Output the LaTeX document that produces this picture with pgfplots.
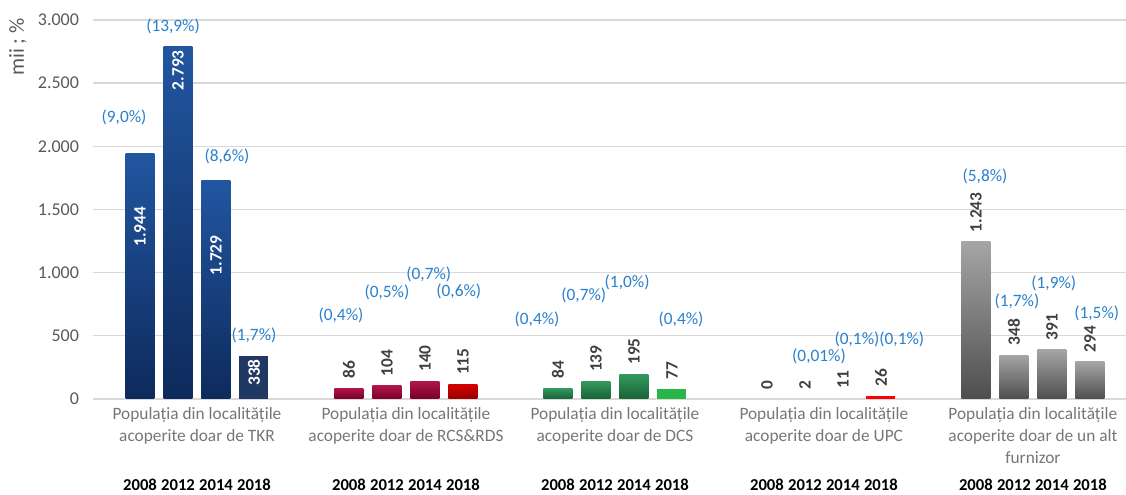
\documentclass[border=0pt]{standalone}
\usepackage{pgfplots}
\pgfplotsset{compat=1.18}
\usepackage{fontspec}
\setmainfont{Carlito}

\definecolor{gridc}{RGB}{217,217,217}
\definecolor{tickc}{RGB}{89,89,89}
\definecolor{catc}{RGB}{118,118,118}
\definecolor{valc}{RGB}{64,64,64}
\definecolor{pctc}{RGB}{41,128,205}
\definecolor{tkrTop}{RGB}{33,86,160}
\definecolor{tkrBot}{RGB}{14,42,92}
\definecolor{tkrNavy}{RGB}{32,56,100}
\definecolor{rcsTop}{RGB}{176,22,72}
\definecolor{rcsBot}{RGB}{118,0,40}
\definecolor{rcsRedTop}{RGB}{210,0,0}
\definecolor{rcsRedBot}{RGB}{150,0,0}
\definecolor{dcsTop}{RGB}{52,152,94}
\definecolor{dcsBot}{RGB}{24,98,54}
\definecolor{dcsLight}{RGB}{40,182,72}
\definecolor{upcRed}{RGB}{255,0,0}
\definecolor{othTop}{RGB}{165,165,165}
\definecolor{othBot}{RGB}{78,78,78}

\pgfplotsset{
  onebar/.style={ybar, bar width=0.763, bar shift=0pt, draw=none},
  valtop/.style={nodes near coords, every node near coord/.append style={
      rotate=90, anchor=west, inner xsep=7pt, inner ysep=0pt, text=valc,
      font=\fontsize{13}{15}\selectfont\bfseries}},
  valin/.style={nodes near coords, every node near coord/.append style={
      rotate=90, anchor=east, inner xsep=#1, inner ysep=0pt, text=white,
      font=\fontsize{13}{15}\selectfont\bfseries}},
}
\tikzset{catlabel/.style={anchor=north, align=center, inner sep=0pt, yshift=-6pt, text=catc,
      font=\fontsize{13}{16.5}\selectfont}}

\newcommand{\pct}[3]{\node[text=pctc, font=\fontsize{13}{15}\selectfont] at (axis cs:#1,#2) {#3};}

\begin{document}
\begin{tikzpicture}
\path[use as bounding box] (-69.75pt,-72pt) rectangle (774.75pt,299.25pt);
\begin{axis}[
  scale only axis,
  width=774.75pt, height=284.25pt,
  xmin=-1.237, xmax=25.95,
  ymin=0, ymax=3000,
  enlargelimits=false,
  clip=false,
  axis line style={draw=none},
  tick style={draw=none},
  ymajorgrids,
  major grid style={gridc, line width=1pt},
  ytick={0,500,1000,1500,2000,2500,3000},
  /pgf/number format/use comma,
  /pgf/number format/1000 sep={.},
  /pgf/number format/assume math mode=true,
  yticklabel style={text=tickc, font=\fontsize{13.5}{15}\selectfont},
  yticklabel shift=7pt,
  xtick={0,1,2,3,5.5,6.5,7.5,8.5,11,12,13,14,16.5,17.5,18.5,19.5,22,23,24,25},
  xticklabels={2008,2012,2014,2018,2008,2012,2014,2018,2008,2012,2014,2018,2008,2012,2014,2018,2008,2012,2014,2018},
  xticklabel style={anchor=center, yshift=-64.5pt, text=black, font=\fontsize{12.5}{14}\selectfont\bfseries},
]
% TKR
\addplot[onebar, top color=tkrTop, bottom color=tkrBot, valin=40pt] coordinates {(0,1944)};
\addplot[onebar, top color=tkrTop, bottom color=tkrBot, valin=3pt] coordinates {(1,2793)};
\addplot[onebar, top color=tkrTop, bottom color=tkrBot, valin=41pt] coordinates {(2,1729)};
\addplot[onebar, fill=tkrNavy, valin=2pt] coordinates {(3,338)};
% RCS&RDS
\addplot[onebar, top color=rcsTop, bottom color=rcsBot, valtop] coordinates {(5.5,86)};
\addplot[onebar, top color=rcsTop, bottom color=rcsBot, valtop] coordinates {(6.5,104)};
\addplot[onebar, top color=rcsTop, bottom color=rcsBot, valtop] coordinates {(7.5,140)};
\addplot[onebar, top color=rcsRedTop, bottom color=rcsRedBot, valtop] coordinates {(8.5,115)};
% DCS
\addplot[onebar, top color=dcsTop, bottom color=dcsBot, valtop] coordinates {(11,84)};
\addplot[onebar, top color=dcsTop, bottom color=dcsBot, valtop] coordinates {(12,139)};
\addplot[onebar, top color=dcsTop, bottom color=dcsBot, valtop] coordinates {(13,195)};
\addplot[onebar, fill=dcsLight, valtop] coordinates {(14,77)};
% UPC (only the 2018 bar is visible in the original)
\addplot[onebar, fill=none, valtop] coordinates {(16.5,0)};
\addplot[onebar, fill=none, valtop] coordinates {(17.5,2)};
\addplot[onebar, fill=none, valtop] coordinates {(18.5,11)};
\addplot[onebar, fill=upcRed, valtop] coordinates {(19.5,26)};
% alt furnizor
\addplot[onebar, top color=othTop, bottom color=othBot, valtop] coordinates {(22,1243)};
\addplot[onebar, top color=othTop, bottom color=othBot, valtop] coordinates {(23,348)};
\addplot[onebar, top color=othTop, bottom color=othBot, valtop] coordinates {(24,391)};
\addplot[onebar, top color=othTop, bottom color=othBot, valtop] coordinates {(25,294)};

% percentages
\pct{-0.42}{2232}{(9,0\%)}
\pct{0.87}{2953}{(13,9\%)}
\pct{2.29}{1924}{(8,6\%)}
\pct{3.0}{507}{(1,7\%)}
\pct{5.29}{665}{(0,4\%)}
\pct{6.5}{847}{(0,5\%)}
\pct{7.6}{990}{(0,7\%)}
\pct{8.39}{855}{(0,6\%)}
\pct{10.45}{633}{(0,4\%)}
\pct{11.68}{823}{(0,7\%)}
\pct{12.82}{926}{(1,0\%)}
\pct{14.24}{633}{(0,4\%)}
\pct{17.87}{340}{(0,01\%)}
\pct{18.87}{475}{(0,1\%)}
\pct{20.05}{475}{(0,1\%)}
\pct{22.24}{1765}{(5,8\%)}
\pct{23.08}{776}{(1,7\%)}
\pct{24.05}{918}{(1,9\%)}
\pct{25.18}{681}{(1,5\%)}

% category labels
\node[catlabel] at (axis cs:1.5,0) {Populația din localitățile\\acoperite doar de TKR};
\node[catlabel] at (axis cs:7,0) {Populația din localitățile\\acoperite doar de RCS\&RDS};
\node[catlabel] at (axis cs:12.5,0) {Populația din localitățile\\acoperite doar de DCS};
\node[catlabel] at (axis cs:18,0) {Populația din localitățile\\acoperite doar de UPC};
\node[catlabel] at (axis cs:23.5,0) {Populația din localitățile\\acoperite doar de un alt\\furnizor};
\end{axis}
\node[rotate=90, text=tickc, font=\fontsize{16}{18}\selectfont] at (-56.25pt,264pt) {mii ; \%};
\end{tikzpicture}
\end{document}
